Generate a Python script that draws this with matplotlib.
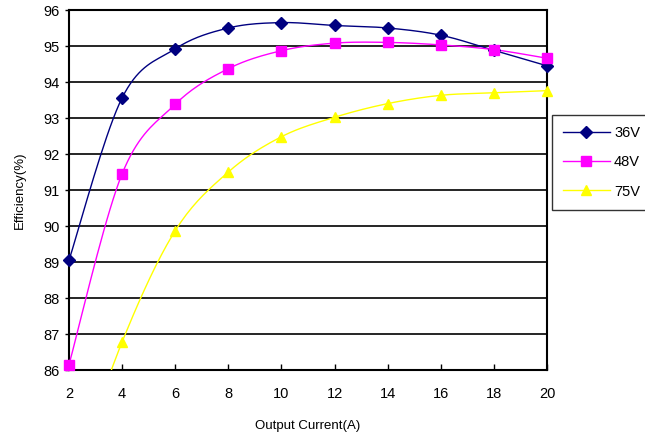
import numpy as np
import matplotlib.pyplot as plt

plt.rcParams['font.family'] = ['Liberation Sans', 'DejaVu Sans']

# output current (A)
current = [2, 4, 6, 8, 10, 12, 14, 16, 18, 20]
# efficiency (%)
eff_36v = [89.05, 93.56, 94.92, 95.50, 95.65, 95.57, 95.50, 95.30, 94.88, 94.45]
eff_48v = [86.15, 91.45, 93.38, 94.37, 94.87, 95.08, 95.10, 95.03, 94.90, 94.66]
eff_75v = [82.60, 86.78, 89.87, 91.50, 92.48, 93.02, 93.40, 93.63, 93.70, 93.76]
labels = ['36V', '48V', '75V']
colors = ['#000080', '#FF00FF', '#FFFF00']
markers = ['D', 's', '^']
msizes = [6.5, 7, 7.5]


def smooth(x, y, n=20):
    # Catmull-Rom style curve like Excel's "smoothed line"
    x = np.asarray(x, float)
    y = np.asarray(y, float)
    px = np.concatenate([[x[0]], x, [x[-1]]])
    py = np.concatenate([[y[0]], y, [y[-1]]])
    xs, ys = [], []
    for i in range(1, len(px) - 2):
        p0, p1, p2, p3 = [np.array([px[j], py[j]]) for j in (i - 1, i, i + 1, i + 2)]
        c1 = p1 + (p2 - p0) / 6
        c2 = p2 - (p3 - p1) / 6
        t = np.linspace(0, 1, n)[:, None]
        pts = ((1 - t) ** 3) * p1 + 3 * ((1 - t) ** 2) * t * c1 + 3 * (1 - t) * t ** 2 * c2 + t ** 3 * p2
        xs.extend(pts[:, 0])
        ys.extend(pts[:, 1])
    return xs, ys


fig = plt.figure(figsize=(6.45, 4.38), dpi=100)
ax = fig.add_axes([69 / 645, 68 / 438, 478 / 645, 360 / 438])

for data, lab, col, mk, ms in zip([eff_36v, eff_48v, eff_75v], labels, colors, markers, msizes):
    sx, sy = smooth(current, data)
    ax.plot(sx, sy, color=col, lw=1.0, zorder=3)
    ax.plot(current, data, linestyle='none', marker=mk, color=col,
            markersize=ms, zorder=4, clip_on=False)
    ax.plot([], [], color=col, lw=1.0, marker=mk, markersize=ms, label=lab)

ax.set_xlim(2, 20)
ax.set_ylim(86, 96)
ax.set_xticks(np.arange(2, 21, 2))
ax.set_yticks(np.arange(86, 97, 1))
ax.yaxis.grid(True, color='black', lw=1.2)
ax.set_axisbelow(True)
for s in ax.spines.values():
    s.set_linewidth(1.5)
    s.set_color('black')
ax.tick_params(axis='x', direction='in', length=4, width=1, labelsize=10.5, pad=12)
ax.tick_params(axis='y', direction='out', length=3, width=1, labelsize=10.5, pad=4)

ax.set_xlabel('Output Current(A)', fontsize=9.5, labelpad=14)
ax.set_ylabel('Efficiency(%)', fontsize=9.5, labelpad=12)

leg = ax.legend(loc='upper left', bbox_to_anchor=(552 / 645, 1 - 115 / 438),
                bbox_transform=fig.transFigure, frameon=True, fancybox=False,
                fontsize=10.5, borderpad=0.75, labelspacing=1.05, handlelength=3.2,
                handletextpad=0.3, borderaxespad=0)
leg.get_frame().set_edgecolor('black')
leg.get_frame().set_linewidth(1.0)

fig.savefig('out.png', dpi=100)
